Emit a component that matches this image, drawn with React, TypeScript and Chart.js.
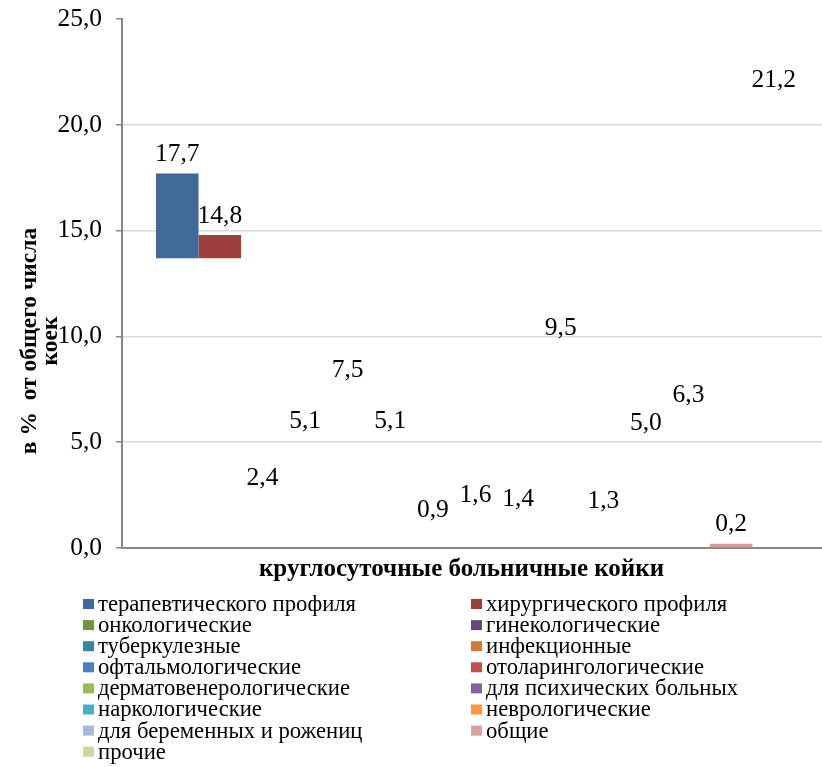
import React, { useEffect, useRef } from 'react';
import { Chart, registerables } from 'chart.js';

Chart.register(...registerables);

const categories = [''];
const xTitle = 'круглосуточные больничные койки';
const yTitleLines = ['в %  от общего числа', 'коек'];

const seriesNames = [
  'терапевтического профиля',
  'хирургического профиля',
  'онкологические',
  'гинекологические',
  'туберкулезные',
  'инфекционные',
  'офтальмологические',
  'отоларингологические',
  'дерматовенерологические',
  'для психических больных',
  'наркологические',
  'неврологические',
  'для беременных и рожениц',
  'общие',
  'прочие',
];

const seriesValues = [17.7, 14.8, 2.4, 5.1, 7.5, 5.1, 0.9, 1.6, 1.4, 9.5, 1.3, 5.0, 6.3, 0.2, 21.2];

const legendColors = [
  '#3E6A9C', '#9B3E3B', '#76923C', '#5F4A7E', '#37879C', '#D0793A', '#4A7EBF', '#C0504D',
  '#9BBB59', '#8064A2', '#4BACC6', '#F79646', '#A7B9DA', '#D9A0A0', '#C6D9A6',
];

const barColors = [
  '#3F6A9A', '#9D403D', null, null, null, null, null, null,
  null, null, null, null, null, '#D99A9A', null,
];

const barBases = [13.7, 13.7, null, null, null, null, null, null, null, null, null, null, null, null, null];

const yTicks = [0, 5, 10, 15, 20, 25];

const FONT = '"Liberation Serif", "Times New Roman", serif';
const fmt = (v: number) => v.toFixed(1).replace('.', ',');

const overlayPlugin = {
  id: 'overlay',
  afterDraw(chart: any) {
    const ctx = chart.ctx;
    const yScale = chart.scales.y;
    ctx.save();
    // data labels
    ctx.fillStyle = '#000';
    ctx.font = `25.5px ${FONT}`;
    ctx.textAlign = 'center';
    ctx.textBaseline = 'alphabetic';
    seriesValues.forEach((v, i) => {
      const el = chart.getDatasetMeta(i).data[0];
      const y = yScale.getPixelForValue(v);
      ctx.fillText(fmt(v), el.x, y - 12.3);
    });
    // x title
    ctx.font = `bold 25px ${FONT}`;
    ctx.textBaseline = 'middle';
    ctx.fillText(xTitle, 461.5, 570);
    // y title
    ctx.font = `bold 23.5px ${FONT}`;
    const cy = 341;
    [30, 51].forEach((cx, k) => {
      ctx.save();
      ctx.translate(cx, cy);
      ctx.rotate(-Math.PI / 2);
      ctx.fillText(yTitleLines[k], 0, 0);
      ctx.restore();
    });
    // legend
    ctx.font = `22.7px ${FONT}`;
    ctx.textAlign = 'left';
    ctx.textBaseline = 'middle';
    seriesNames.forEach((name, i) => {
      const col = i % 2;
      const row = Math.floor(i / 2);
      const bx = col === 0 ? 83 : 471;
      const cyy = 604 + row * 21.1;
      ctx.fillStyle = legendColors[i];
      ctx.fillRect(bx, cyy - 5, 11, 10);
      ctx.fillStyle = '#000';
      ctx.fillText(name, bx + 15, cyy + 1);
    });
    ctx.restore();
  },
};

export default function App() {
  const ref = useRef<HTMLCanvasElement | null>(null);
  useEffect(() => {
    if (!ref.current) return;
    const datasets = seriesNames.map((name, i) => {
      const ds: any = {
        label: name,
        data: [seriesValues[i]],
        backgroundColor: barColors[i] || 'rgba(0,0,0,0)',
        borderWidth: 0,
      };
      if (barBases[i] !== null) ds.base = barBases[i];
      return ds;
    });
    const chart = new Chart(ref.current, {
      type: 'bar',
      data: { labels: categories, datasets },
      plugins: [overlayPlugin],
      options: {
        responsive: false,
        animation: false,
        devicePixelRatio: 1,
        categoryPercentage: 0.904,
        barPercentage: 1,
        layout: { padding: { top: 19, right: 0, left: 0, bottom: 0 } },
        plugins: {
          legend: { display: false },
          tooltip: { enabled: false },
        },
        scales: {
          x: {
            grid: { display: false },
            border: { display: true, color: '#868686', width: 2 },
            ticks: { display: false },
            title: { display: false },
            afterFit: (s: any) => { s.height = 219; },
          },
          y: {
            min: 0,
            max: 25,
            afterBuildTicks: (s: any) => { s.ticks = yTicks.map((v) => ({ value: v })); },
            ticks: {
              color: '#000',
              font: { family: FONT, size: 25.5, lineHeight: 0.4 },
              padding: 14,
              callback: (v: any) => fmt(Number(v)),
            },
            grid: {
              color: (c: any) => (c.tick && (c.tick.value === 0 || c.tick.value === 25) ? 'rgba(0,0,0,0)' : '#d9d9d9'),
              lineWidth: 1.5,
              tickColor: '#868686',
              tickLength: 6,
            },
            border: { color: '#868686', width: 2 },
            afterFit: (s: any) => { s.width = 122; },
          },
        },
      },
    });
    return () => chart.destroy();
  }, []);
  return (
    <div style={{ position: 'fixed', left: 0, top: 0, width: 822, height: 767, overflow: 'hidden', background: '#fff' }}>
      <canvas ref={ref} width={829} height={767} style={{ display: 'block' }} />
    </div>
  );
}
